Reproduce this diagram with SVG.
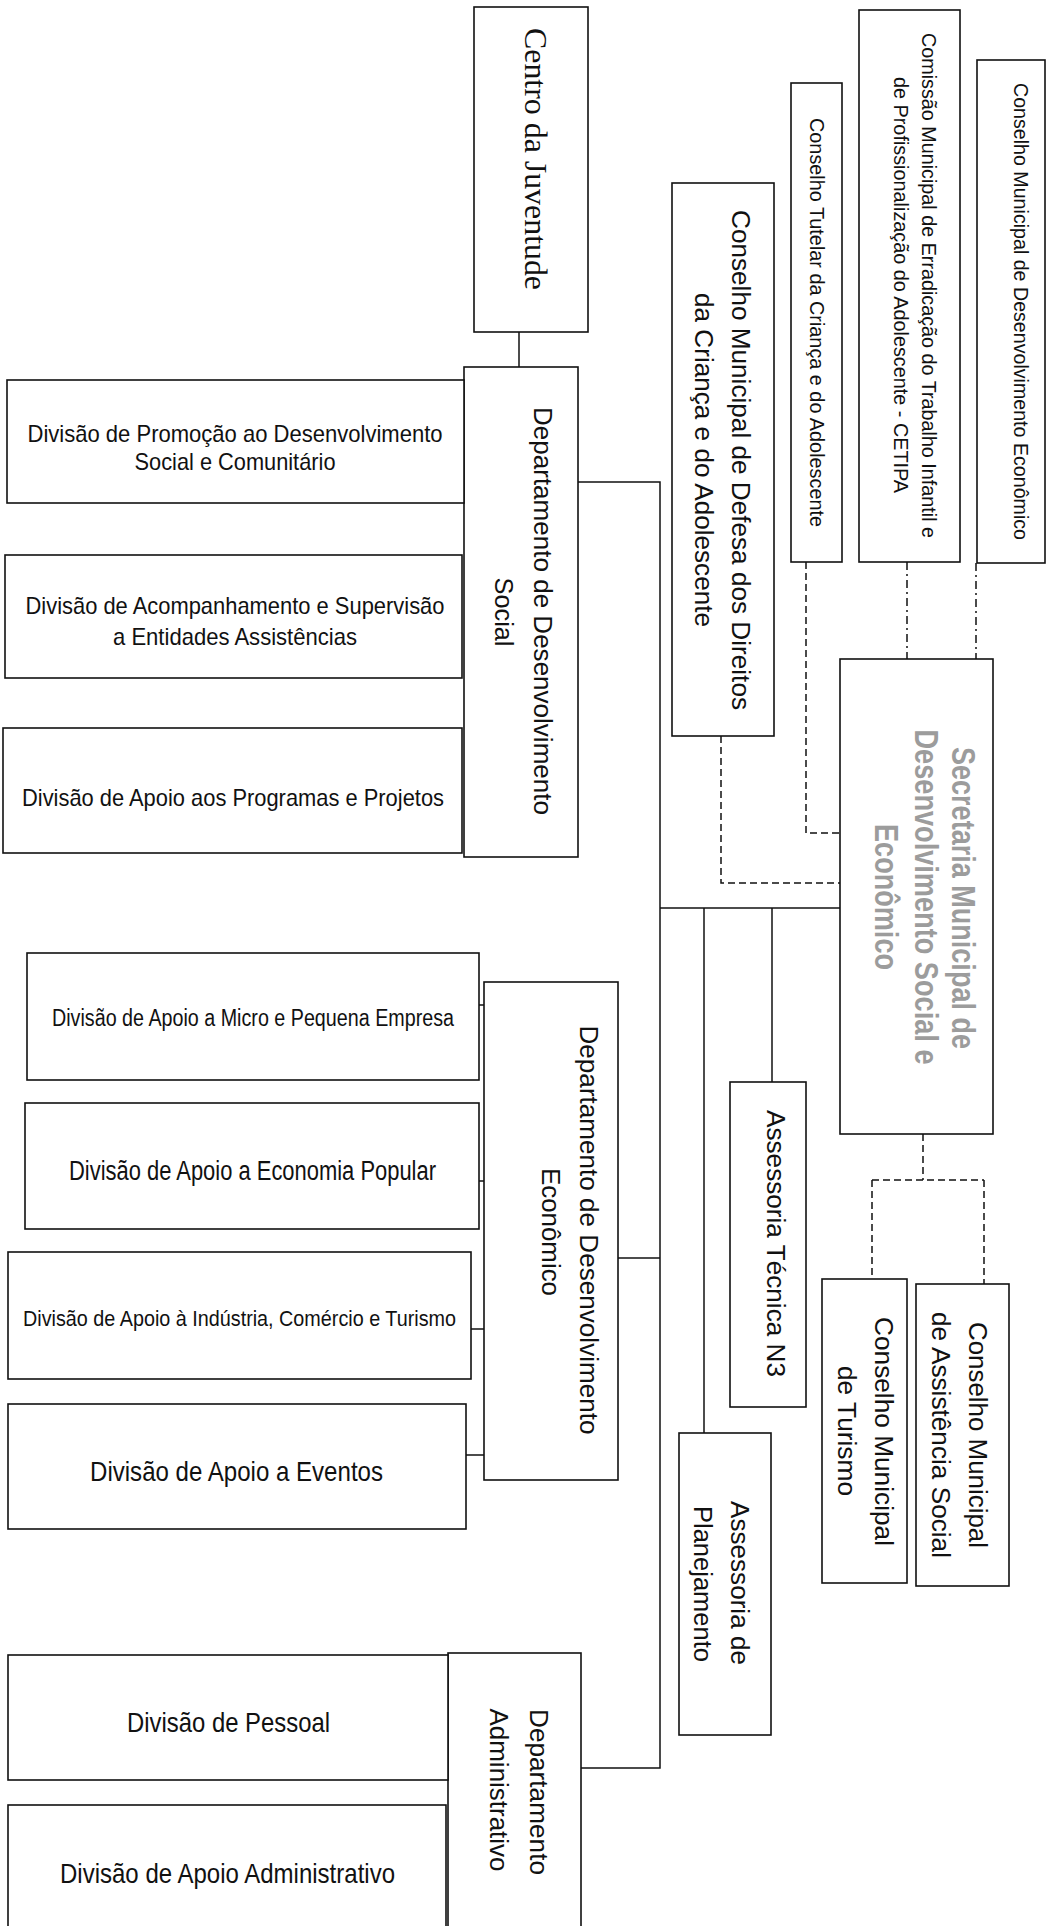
<svg xmlns="http://www.w3.org/2000/svg" width="1051" height="1926" viewBox="0 0 1051 1926">
<style>
.box{fill:#fff;stroke:#111;stroke-width:1.6}
.t{font-family:"Liberation Sans",Arial,sans-serif;fill:#111;text-anchor:middle}
.serif{font-family:"Liberation Serif","Times New Roman",serif;fill:#111;text-anchor:middle}
.sec{font-family:"Liberation Sans",Arial,sans-serif;fill:#9c9c9c;text-anchor:middle;font-size:34px;font-weight:bold}
.c{fill:none;stroke:#111;stroke-width:1.5}
.d{fill:none;stroke:#111;stroke-width:1.5;stroke-dasharray:7 4}
.dd{fill:none;stroke:#111;stroke-width:1.5;stroke-dasharray:8 4 2 4}
</style>
<rect width="1051" height="1926" fill="#fff"/>
<g id="connectors">
<path class="c" d="M519,332 V367"/>
<path class="c" d="M578,482 H660 V1768 H581"/>
<path class="c" d="M618,1258 H660"/>
<path class="c" d="M660,908 H840"/>
<path class="c" d="M704,908 V1433"/>
<path class="c" d="M772,908 V1082"/>
<path class="c" d="M479,1005 H484"/>
<path class="c" d="M479,1181 H484"/>
<path class="c" d="M471,1329 H484"/>
<path class="c" d="M466,1455 H484"/>
<path class="d" d="M721,736 V883 H840"/>
<path class="d" d="M806,562 V833 H840"/>
<path class="dd" d="M907,562 V659"/>
<path class="dd" d="M976,563 V659"/>
<path class="d" d="M923,1134 V1180 M872,1180 H984 M872,1180 V1279 M984,1180 V1284"/>
</g>
<g id="centro-juventude">
<rect class="box" x="474" y="7" width="114" height="325"/>
<text class="serif" font-size="32" transform="translate(525,159) rotate(90)" textLength="262" lengthAdjust="spacingAndGlyphs">Centro da Juventude</text>
</g>
<g id="dept-social">
<rect class="box" x="464" y="367" width="114" height="490"/>
<g class="t" font-size="26">
<text transform="translate(534,611) rotate(90)" textLength="408" lengthAdjust="spacingAndGlyphs">Departamento de Desenvolvimento</text>
<text transform="translate(495,612) rotate(90)" textLength="69" lengthAdjust="spacingAndGlyphs">Social</text>
</g>
</g>
<g id="div-promocao">
<rect class="box" x="7" y="380" width="457" height="123"/>
<text class="t" font-size="24" x="235" y="442" textLength="415" lengthAdjust="spacingAndGlyphs">Divisão de Promoção ao Desenvolvimento</text>
<text class="t" font-size="24" x="235" y="470" textLength="201" lengthAdjust="spacingAndGlyphs">Social e Comunitário</text>
</g>
<g id="div-acompanhamento">
<rect class="box" x="5" y="555" width="457" height="123"/>
<text class="t" font-size="24" x="235" y="614" textLength="419" lengthAdjust="spacingAndGlyphs">Divisão de Acompanhamento e Supervisão</text>
<text class="t" font-size="24" x="235" y="645" textLength="244" lengthAdjust="spacingAndGlyphs">a Entidades Assistências</text>
</g>
<g id="div-programas">
<rect class="box" x="3" y="728" width="459" height="125"/>
<text class="t" font-size="24" x="233" y="806" textLength="422" lengthAdjust="spacingAndGlyphs">Divisão de Apoio aos Programas e Projetos</text>
</g>
<g id="conselho-defesa">
<rect class="box" x="672" y="183" width="102" height="553"/>
<g class="t" font-size="26">
<text transform="translate(732,460) rotate(90)" textLength="500" lengthAdjust="spacingAndGlyphs">Conselho Municipal de Defesa dos Direitos</text>
<text transform="translate(695,460) rotate(90)" textLength="334" lengthAdjust="spacingAndGlyphs">da Criança e do Adolescente</text>
</g>
</g>
<g id="conselho-tutelar">
<rect class="box" x="791" y="83" width="51" height="479"/>
<text class="t" font-size="20" transform="translate(810,322.5) rotate(90)" textLength="409" lengthAdjust="spacingAndGlyphs">Conselho Tutelar da Criança e do Adolescente</text>
</g>
<g id="comissao-cetipa">
<rect class="box" x="859" y="10" width="101" height="552"/>
<g class="t" font-size="20">
<text transform="translate(922,285.5) rotate(90)" textLength="505" lengthAdjust="spacingAndGlyphs">Comissão Municipal de Erradicação do Trabalho Infantil e</text>
<text transform="translate(894,285) rotate(90)" textLength="416" lengthAdjust="spacingAndGlyphs">de Profissionalização do Adolescente - CETIPA</text>
</g>
</g>
<g id="conselho-desenv-economico">
<rect class="box" x="977" y="60" width="68" height="503"/>
<text class="t" font-size="20" transform="translate(1014,311.5) rotate(90)" textLength="457" lengthAdjust="spacingAndGlyphs">Conselho Municipal de Desenvolvimento Econômico</text>
</g>
<g id="secretaria">
<rect class="box" x="840" y="659" width="153" height="475"/>
<text class="sec" transform="translate(952,898) rotate(90)" textLength="302" lengthAdjust="spacingAndGlyphs">Secretaria Municipal de</text>
<text class="sec" transform="translate(915,897) rotate(90)" textLength="335" lengthAdjust="spacingAndGlyphs">Desenvolvimento Social e</text>
<text class="sec" transform="translate(875,897) rotate(90)" textLength="146" lengthAdjust="spacingAndGlyphs">Econômico</text>
</g>
<g id="assessoria-tecnica">
<rect class="box" x="730" y="1082" width="76" height="325"/>
<text class="t" font-size="26" transform="translate(767,1243.5) rotate(90)" textLength="267" lengthAdjust="spacingAndGlyphs">Assessoria Técnica N3</text>
</g>
<g id="assessoria-planejamento">
<rect class="box" x="679" y="1433" width="92" height="302"/>
<g class="t" font-size="26">
<text transform="translate(731,1583) rotate(90)" textLength="164" lengthAdjust="spacingAndGlyphs">Assessoria de</text>
<text transform="translate(694,1584) rotate(90)" textLength="156" lengthAdjust="spacingAndGlyphs">Planejamento</text>
</g>
</g>
<g id="conselho-turismo">
<rect class="box" x="822" y="1279" width="85" height="304"/>
<g class="t" font-size="26">
<text transform="translate(875,1431.5) rotate(90)" textLength="229" lengthAdjust="spacingAndGlyphs">Conselho Municipal</text>
<text transform="translate(838,1431) rotate(90)" textLength="130" lengthAdjust="spacingAndGlyphs">de Turismo</text>
</g>
</g>
<g id="conselho-assistencia">
<rect class="box" x="916" y="1284" width="93" height="302"/>
<g class="t" font-size="26">
<text transform="translate(969,1435) rotate(90)" textLength="226" lengthAdjust="spacingAndGlyphs">Conselho Municipal</text>
<text transform="translate(932,1435) rotate(90)" textLength="246" lengthAdjust="spacingAndGlyphs">de Assistência Social</text>
</g>
</g>
<g id="dept-economico">
<rect class="box" x="484" y="982" width="134" height="498"/>
<g class="t" font-size="26">
<text transform="translate(580,1230) rotate(90)" textLength="409" lengthAdjust="spacingAndGlyphs">Departamento de Desenvolvimento</text>
<text transform="translate(542,1232) rotate(90)" textLength="128" lengthAdjust="spacingAndGlyphs">Econômico</text>
</g>
</g>
<g id="div-micro">
<rect class="box" x="27" y="953" width="452" height="127"/>
<text class="t" font-size="23" x="253" y="1026" textLength="402" lengthAdjust="spacingAndGlyphs">Divisão de Apoio a Micro e Pequena Empresa</text>
</g>
<g id="div-economia-popular">
<rect class="box" x="25" y="1103" width="454" height="126"/>
<text class="t" font-size="27" x="252.5" y="1180" textLength="367" lengthAdjust="spacingAndGlyphs">Divisão de Apoio a Economia Popular</text>
</g>
<g id="div-industria">
<rect class="box" x="8" y="1252" width="463" height="127"/>
<text class="t" font-size="22" x="239.5" y="1326" textLength="433" lengthAdjust="spacingAndGlyphs">Divisão de Apoio à Indústria, Comércio e Turismo</text>
</g>
<g id="div-eventos">
<rect class="box" x="8" y="1404" width="458" height="125"/>
<text class="t" font-size="28" x="236.5" y="1481" textLength="293" lengthAdjust="spacingAndGlyphs">Divisão de Apoio a Eventos</text>
</g>
<g id="dept-administrativo">
<rect class="box" x="448" y="1653" width="133" height="280"/>
<g class="t" font-size="26">
<text transform="translate(530,1792) rotate(90)" textLength="166" lengthAdjust="spacingAndGlyphs">Departamento</text>
<text transform="translate(490,1790) rotate(90)" textLength="163" lengthAdjust="spacingAndGlyphs">Administrativo</text>
</g>
</g>
<g id="div-pessoal">
<rect class="box" x="8" y="1655" width="440" height="125"/>
<text class="t" font-size="28" x="228.5" y="1732" textLength="203" lengthAdjust="spacingAndGlyphs">Divisão de Pessoal</text>
</g>
<g id="div-apoio-administrativo">
<rect class="box" x="8" y="1805" width="438" height="130"/>
<text class="t" font-size="28" x="227.5" y="1883" textLength="335" lengthAdjust="spacingAndGlyphs">Divisão de Apoio Administrativo</text>
</g>
</svg>
